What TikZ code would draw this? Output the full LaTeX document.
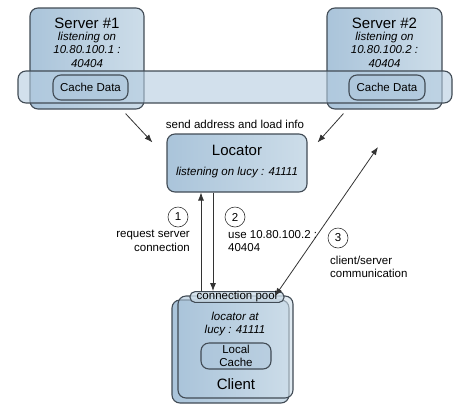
\documentclass[tikz,border=0pt]{standalone}
\usepackage{fontspec}
\setmainfont{Liberation Sans}
\usetikzlibrary{arrows.meta}
\definecolor{boxline}{RGB}{65,75,85}
\definecolor{boxdark}{RGB}{170,196,218}
\definecolor{boxlight}{RGB}{205,221,233}
\definecolor{bandfill}{RGB}{180,204,224}
\newcommand{\bigtxt}{\fontsize{15}{17}\selectfont}
\newcommand{\midtxt}{\fontsize{11.5}{13.5}\selectfont}
\tikzset{
  panel/.style={draw=boxline, line width=1.1pt, rounded corners=8pt,
                left color=boxdark, right color=boxlight, inner sep=0pt},
  cachebox/.style={draw=boxline, line width=1.1pt, rounded corners=8pt,
                fill=boxdark, fill opacity=.45, text opacity=1,
                inner sep=0pt, font=\midtxt, align=center},
  num/.style={draw=black!80, circle, line width=.6pt, minimum size=20pt,
              inner sep=0pt, font=\midtxt},
  lbl/.style={font=\midtxt, inner sep=0pt},
  tip/.style={Latex[length=8pt,width=6pt]},
  arr/.style={draw=black!80, line width=.8pt, -{Latex[length=8pt,width=6pt]}},
}
\begin{document}
\begin{tikzpicture}[x=1pt, y=-1pt]
\useasboundingbox (0,0) rectangle (465,416);

% servers
\node[panel, minimum width=114pt, minimum height=101pt] (srv1) at (87,58.5) {};
\node[panel, minimum width=115pt, minimum height=101pt] (srv2) at (384.5,58.5) {};
\node[font=\bigtxt, inner sep=0pt] (srv1t) at (87,23) {Server \#1};
\node[font=\bigtxt, inner sep=0pt] (srv2t) at (384.5,23) {Server \#2};
\node[lbl, font=\midtxt\itshape, align=center] (srv1i) at (87,49.5)
  {listening on\\10.80.100.1 :\\40404};
\node[lbl, font=\midtxt\itshape, align=center] (srv2i) at (384.5,49.5)
  {listening on\\10.80.100.2 :\\40404};

% distributed cache band
\node[draw=boxline, line width=1.1pt, rounded corners=8pt, fill=bandfill,
      fill opacity=.6, minimum width=434pt, minimum height=32pt] (band) at (235,87) {};
\node[cachebox, minimum width=75pt, minimum height=25pt] (cache1) at (90.5,87.5) {Cache Data};
\node[cachebox, minimum width=76pt, minimum height=25pt] (cache2) at (387,87.5) {Cache Data};

% locator
\node[panel, minimum width=140pt, minimum height=58pt] (loc) at (237,163) {};
\node[font=\bigtxt, inner sep=0pt] (loct) at (237,150) {Locator};
\node[lbl, font=\midtxt\itshape] (loci) at (237,173) {listening on lucy : 41111};

% client
\node[panel, minimum width=117pt, minimum height=103pt] (cliback) at (230.5,351.5) {};
\node[panel, fill opacity=.6, minimum width=115pt, minimum height=102pt] (cli) at (235.5,347) {};
\node[cachebox, fill=boxlight, fill opacity=.8, rounded corners=5pt,
      minimum width=94pt, minimum height=10pt] (pool) at (237,297) {connection pool};
\node[lbl, font=\midtxt\itshape, align=center] (clii) at (235,324) {locator at\\lucy : 41111};
\node[cachebox, minimum width=70pt, minimum height=26pt] (lcache) at (236,356) {Local\\Cache};
\node[font=\bigtxt, inner sep=0pt] (clit) at (236,384) {Client};

% messages
\node[lbl] (sendlbl) at (235,124) {send address and load info};
\draw[arr] ([xshift=-19pt,yshift=-4pt]srv1.south east) -- ([xshift=-14pt,yshift=-9pt]loc.north west);
\draw[arr] ([xshift=17pt,yshift=-4pt]srv2.south west) -- ([xshift=10pt,yshift=-9pt]loc.north east);
\draw[arr] ([xshift=-36pt]pool.north) -- ([xshift=-36pt]loc.south);
\draw[arr] ([xshift=-24pt]loc.south) -- ([xshift=-24pt]pool.north);
\coordinate (srvlink) at (378,147);
\draw[arr, {Latex[length=8pt,width=6pt]}-{Latex[length=8pt,width=6pt]}]
  ([xshift=38pt,yshift=-5pt]pool.north) -- (srvlink);

\node[num] (n1) at (178,217) {1};
\node[num] (n2) at (235,217) {2};
\node[num] (n3) at (338,238) {3};
\node[lbl, align=right, anchor=east] (reqlbl) at (190,241) {request server\\connection};
\node[lbl, align=left, anchor=west] (uselbl) at (228,241) {use 10.80.100.2 :\\40404};
\node[lbl, align=left, anchor=west] (comlbl) at (330,267) {client/server\\communication};
\end{tikzpicture}
\end{document}
